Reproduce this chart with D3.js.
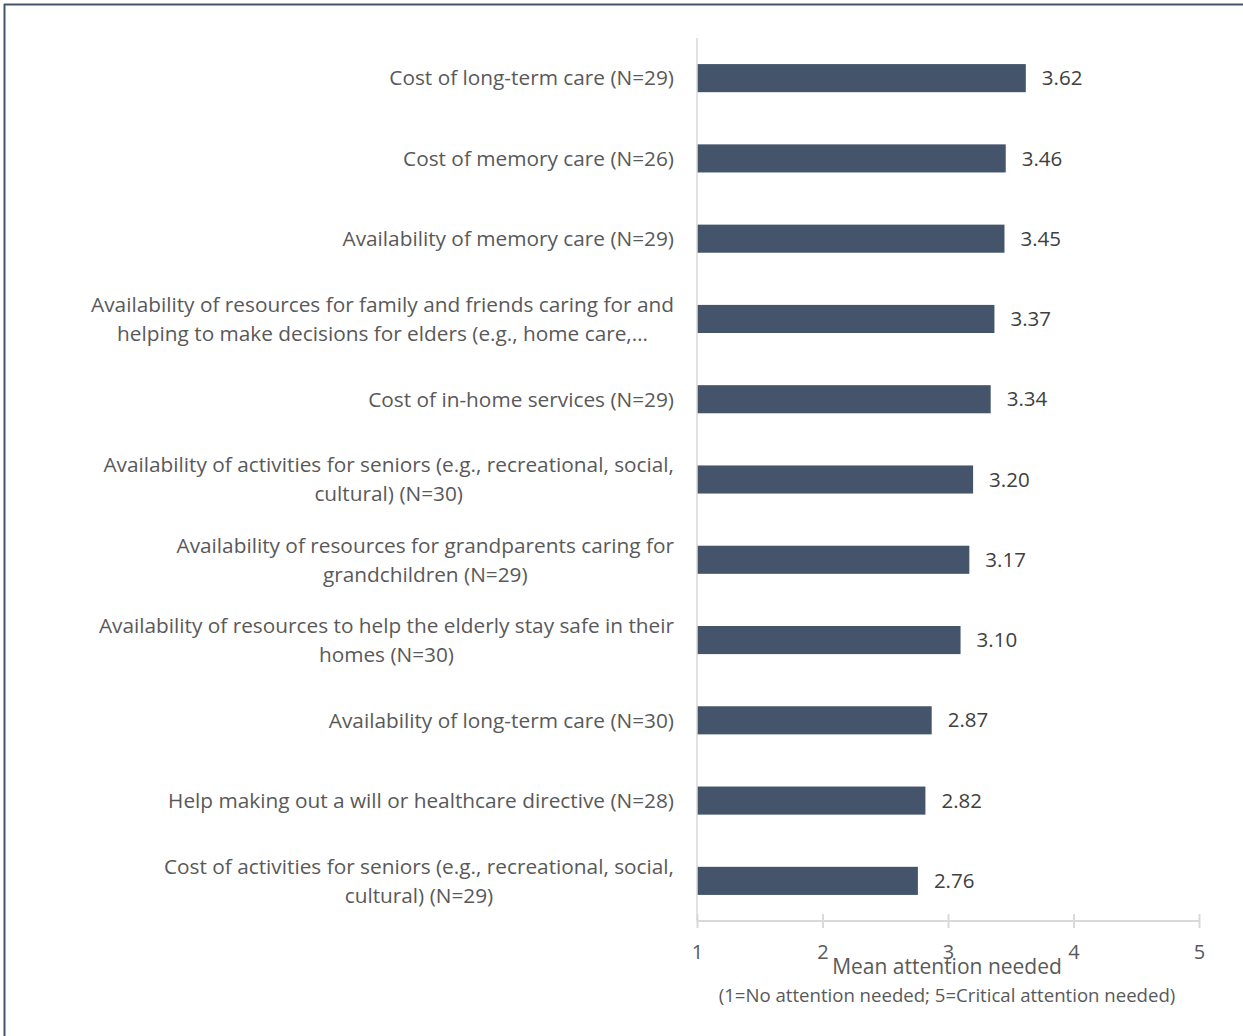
<!DOCTYPE html>
<html>
<head>
<meta charset="utf-8">
<script src="https://cdn.jsdelivr.net/npm/d3@7"></script>
<style>
  html, body { margin: 0; padding: 0; background: #fff; }
  svg { display: block; font-family: "Open Sans", "Noto Sans", sans-serif; }
</style>
</head>
<body>
<div id="chart"></div>
<script>
// data, top to bottom
const categories = [
    ["Cost of long-term care (N=29)"],
    ["Cost of memory care (N=26)"],
    ["Availability of memory care (N=29)"],
    ["Availability of resources for family and friends caring for and", "helping to make decisions for elders (e.g., home care,\u2026"],
    ["Cost of in-home services (N=29)"],
    ["Availability of activities for seniors (e.g., recreational, social,", "cultural) (N=30)"],
    ["Availability of resources for grandparents caring for", "grandchildren (N=29)"],
    ["Availability of resources to help the elderly stay safe in their", "homes (N=30)"],
    ["Availability of long-term care (N=30)"],
    ["Help making out a will or healthcare directive (N=28)"],
    ["Cost of activities for seniors (e.g., recreational, social,", "cultural) (N=29)"]
];
const values = [3.62, 3.46, 3.45, 3.37, 3.34, 3.20, 3.17, 3.10, 2.87, 2.82, 2.76];
const xTicks = [1, 2, 3, 4, 5];
const axisTitle = "Mean attention needed";
const axisSubtitle = "(1=No attention needed; 5=Critical attention needed)";

const width = 1243;
const height = 1036;
const textColor = "#595959";
const barColor = "#44546a";

const svg = d3.select("#chart").append("svg")
    .attr("width", width)
    .attr("height", height);

// frame (only top and left edges are visible in the picture)
svg.append("line").attr("x1", 4).attr("x2", width).attr("y1", 4.5).attr("y2", 4.5)
    .attr("stroke", "#44546a").attr("stroke-width", 2);
svg.append("line").attr("x1", 4.5).attr("x2", 4.5).attr("y1", 4).attr("y2", height)
    .attr("stroke", "#44546a").attr("stroke-width", 2);

const x = d3.scaleLinear().domain([1, 5]).range([697, 1199]);
const y = d3.scaleBand().domain(d3.range(values.length)).range([38, 921]).paddingInner(0.65).paddingOuter(0.325);

// bars
svg.append("g").selectAll("rect").data(values).join("rect")
    .attr("x", x(1))
    .attr("y", (d, i) => y(i))
    .attr("width", d => x(d) - x(1))
    .attr("height", y.bandwidth())
    .attr("fill", barColor);

// value labels
svg.append("g").selectAll("text").data(values).join("text")
    .attr("x", d => x(d) + 16)
    .attr("y", (d, i) => y(i) + y.bandwidth() / 2)
    .attr("dy", "0.35em")
    .attr("fill", "#404040")
    .style("font-size", "20.5px")
    .text(d => d3.format(".2f")(d));

// category labels: multi-line blocks centred, block right edge at 674
const labelRight = 674;
const lineH = 29;
const labels = svg.append("g").selectAll("g").data(categories).join("g");
labels.each(function(lines, i) {
    const g = d3.select(this);
    const cy = y(i) + y.bandwidth() / 2;
    const t = g.selectAll("text").data(lines).join("text")
        .attr("y", (d, j) => cy + (j - (lines.length - 1) / 2) * lineH)
        .attr("dy", "0.35em")
        .attr("fill", textColor)
        .style("font-size", "20.8px")
        .text(d => d);
    const widths = t.nodes().map(n => n.getComputedTextLength());
    const maxW = d3.max(widths);
    const centre = labelRight - maxW / 2;
    t.attr("x", centre).attr("text-anchor", "middle");
});

// y axis line
svg.append("line")
    .attr("x1", x(1)).attr("x2", x(1))
    .attr("y1", 38).attr("y2", 921)
    .attr("stroke", "#d9d9d9").attr("stroke-width", 1.5);

// x axis
const xAxis = svg.append("g").attr("transform", "translate(0,921)")
    .call(d3.axisBottom(x).tickValues(xTicks).tickSize(7).tickPadding(17).tickFormat(d3.format("d")));
xAxis.select(".domain").attr("stroke", "#d9d9d9").attr("stroke-width", 2).attr("d", `M${x(1)},0H${x(5)}`);
xAxis.selectAll(".tick line").attr("stroke", "#d9d9d9").attr("stroke-width", 2).attr("y1", -7).attr("y2", 7);
xAxis.selectAll(".tick text").attr("fill", textColor).style("font-size", "20px")
    .style("font-family", "\"Open Sans\", \"Noto Sans\", sans-serif");

// axis title
const titleX = (x(1) + x(5)) / 2 - 1;
svg.append("text").attr("x", titleX).attr("y", 967).attr("dy", "0.35em")
    .attr("text-anchor", "middle").attr("fill", textColor).style("font-size", "21px")
    .text(axisTitle);
svg.append("text").attr("x", titleX).attr("y", 995).attr("dy", "0.35em")
    .attr("text-anchor", "middle").attr("fill", textColor).style("font-size", "18.6px")
    .text(axisSubtitle);
</script>
</body>
</html>
